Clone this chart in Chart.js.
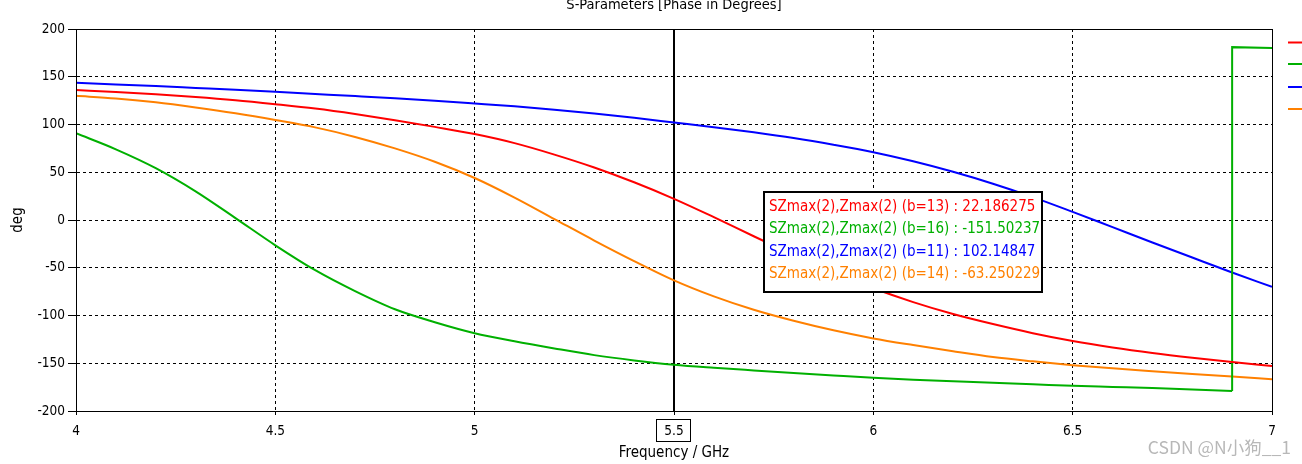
<!DOCTYPE html>
<html><head><meta charset="utf-8">
<script src="https://cdn.jsdelivr.net/npm/chart.js@4.4.1/dist/chart.umd.min.js"></script>
<style>html,body{margin:0;padding:0;background:#fff;overflow:hidden}canvas{display:block}</style>
</head><body>
<canvas id="c" width="1302" height="464"></canvas>
<script>
// ---- data ----
const chartTitle = 'S-Parameters [Phase in Degrees]';
const xAxisTitle = 'Frequency / GHz';
const yAxisTitle = 'deg';
const xTickValues = [4, 4.5, 5, 5.5, 6, 6.5, 7];
const yTickValues = [-200, -150, -100, -50, 0, 50, 100, 150, 200];

const freq = [4.0,4.1,4.2,4.3,4.4,4.5,4.6,4.7,4.8,4.9,5.0,5.1,5.2,5.3,5.4,5.5,5.6,5.7,5.8,5.9,6.0,6.1,6.2,6.3,6.4,6.5,6.6,6.7,6.8,6.9,7.0];
const phaseB13 = [136,134,131.7,128.9,125.5,121.3,116.7,111,104.5,97.5,90,80.5,68.5,55,39.5,22.2,3,-17,-36.5,-55,-71.5,-86,-98.5,-109,-118.5,-126.7,-133.5,-139.3,-144.3,-148.8,-152.8];
const phaseB11 = [143.7,142,140.3,138.3,136.3,134.2,132,129.8,127.5,124.9,122,119,115.5,111.5,107,102.1,97.2,91.8,85.8,78.8,71,61.5,50.5,38,24,8.5,-7.5,-23.5,-39.3,-55,-70];
const phaseB14 = [130,127.3,123.2,117.8,111.7,104.7,97,87,75,61,44,23.5,1,-21.5,-43,-63.2,-80,-94,-105.5,-115.5,-124,-131,-137.5,-143.5,-148,-152,-155.3,-158.3,-161.2,-164,-166.7];
const freqB16 = [4.0,4.1,4.2,4.3,4.4,4.5,4.6,4.7,4.8,4.9,5.0,5.1,5.2,5.3,5.4,5.5,5.6,5.7,5.8,5.9,6.0,6.1,6.2,6.3,6.4,6.5,6.6,6.7,6.8,6.9];
const phaseB16 = [90.8,74,54.3,30,2,-26.5,-52.6,-74.5,-93.5,-107,-118.5,-127,-134.5,-141.5,-147,-151.5,-154.7,-157.5,-160.2,-162.8,-165.3,-167.3,-168.9,-170.5,-172,-173.6,-174.8,-176,-177.5,-179];
const freqB16Wrap = [6.9, 6.9, 7.0];
const phaseB16Wrap = [-179, 181, 180];

const markerFreq = 5.5;
const markerNames = ['SZmax(2),Zmax(2) (b=13)','SZmax(2),Zmax(2) (b=16)','SZmax(2),Zmax(2) (b=11)','SZmax(2),Zmax(2) (b=14)'];
const markerValues = ['22.186275','-151.50237','102.14847','-63.250229'];
const seriesColors = ['#ff0000','#00b000','#0000ff','#ff8000'];
const watermark = 'CSDN @N小狗__1';

// ---- chart ----
const FONT = "'DejaVu Sans Condensed','DejaVu Sans',sans-serif";
Chart.defaults.font.family = FONT;
Chart.defaults.font.size = 13;
Chart.defaults.color = '#000';

const pts = (xs, ys) => xs.map((x, i) => ({x, y: ys[i]}));
const ds = (data, color, mode) => ({data, borderColor: color, borderWidth: 2, pointRadius: 0, fill: false,
  cubicInterpolationMode: mode, tension: mode === 'monotone' ? 0.4 : 0});

const overlay = {
  id: 'overlay',
  beforeDatasetsDraw(chart) {
    const {ctx, chartArea: a, scales: {x}} = chart;
    const px = Math.round(x.getPixelForValue(markerFreq));
    ctx.save();
    ctx.strokeStyle = '#000'; ctx.lineWidth = 2;
    ctx.beginPath(); ctx.moveTo(px, a.top); ctx.lineTo(px, a.bottom); ctx.stroke();
    ctx.restore();
  },
  afterDraw(chart) {
    const {ctx, chartArea: a, scales: {x}} = chart;
    ctx.save();
    // frame
    ctx.strokeStyle = '#000'; ctx.lineWidth = 1;
    ctx.strokeRect(Math.round(a.left) + 0.5, Math.round(a.top) + 0.5, Math.round(a.right - a.left), Math.round(a.bottom - a.top));
    // boxed marker tick label
    const px = Math.round(x.getPixelForValue(markerFreq));
    ctx.strokeRect(px - 17.5, 419.5, 34, 22);
    // title
    ctx.fillStyle = '#000';
    ctx.font = '14.5px ' + FONT;
    ctx.textAlign = 'center'; ctx.textBaseline = 'alphabetic';
    ctx.fillText(chartTitle, (a.left + a.right) / 2, 9);
    // marker readout box
    const bx = 764, by = 192, bw = 278, bh = 100;
    ctx.fillStyle = '#fff';
    ctx.fillRect(bx, by, bw, bh);
    ctx.lineWidth = 2; ctx.strokeStyle = '#000';
    ctx.strokeRect(bx, by, bw, bh);
    ctx.font = '15px ' + FONT;
    ctx.textAlign = 'left'; ctx.textBaseline = 'middle';
    markerNames.forEach((n, i) => {
      ctx.fillStyle = seriesColors[i];
      ctx.fillText(n + ' : ' + markerValues[i], bx + 5, by + 15 + i * 22.5);
    });
    // legend stubs (cut off at the right edge)
    seriesColors.forEach((c, i) => {
      const y = [42.5, 64, 87, 109][i];
      ctx.strokeStyle = c; ctx.lineWidth = 2;
      ctx.beginPath(); ctx.moveTo(1288, y); ctx.lineTo(1302, y); ctx.stroke();
    });
    // watermark
    ctx.fillStyle = '#b8b8b8';
    ctx.font = "17.5px 'Noto Sans CJK SC','Noto Sans',sans-serif";
    ctx.textAlign = 'right'; ctx.textBaseline = 'middle';
    ctx.fillText(watermark, 1291, 447);
    ctx.restore();
  }
};

new Chart(document.getElementById('c'), {
  type: 'line',
  data: {
    datasets: [
      ds(pts(freq, phaseB13), seriesColors[0], 'monotone'),
      ds(pts(freqB16, phaseB16), seriesColors[1], 'monotone'),
      ds(pts(freqB16Wrap, phaseB16Wrap), seriesColors[1], 'default'),
      ds(pts(freq, phaseB11), seriesColors[2], 'monotone'),
      ds(pts(freq, phaseB14), seriesColors[3], 'monotone')
    ]
  },
  options: {
    responsive: false,
    animation: false,
    events: [],
    layout: {padding: {top: 29, right: 30, left: 0, bottom: 0}},
    plugins: {legend: {display: false}, tooltip: {enabled: false}, title: {display: false}},
    scales: {
      x: {
        type: 'linear', min: 4, max: 7,
        afterBuildTicks: s => { s.ticks = xTickValues.map(v => ({value: v})); },
        afterFit: s => { s.height = 53; },
        ticks: {padding: 8, maxRotation: 0, autoSkip: false, callback: v => String(v), font: {size: 13.5}},
        grid: {color: '#000', lineWidth: 1, tickLength: 4, tickColor: '#000', tickBorderDash: []},
        border: {display: true, color: '#000', dash: [3, 3]},
        title: {display: true, text: xAxisTitle, font: {size: 15}, padding: {top: 0, bottom: 2}}
      },
      y: {
        type: 'linear', min: -200, max: 200,
        afterBuildTicks: s => { s.ticks = yTickValues.map(v => ({value: v})); },
        afterFit: s => { s.width = 76; },
        ticks: {padding: 3, autoSkip: false, callback: v => String(v), font: {size: 13.5}},
        grid: {color: '#000', lineWidth: 1, tickLength: 8, tickColor: '#000', tickBorderDash: []},
        border: {display: true, color: '#000', dash: [3, 3]},
        title: {display: true, text: yAxisTitle, font: {size: 15}, padding: {top: 9, bottom: 0}}
      }
    }
  },
  plugins: [overlay]
});
</script>
</body></html>
